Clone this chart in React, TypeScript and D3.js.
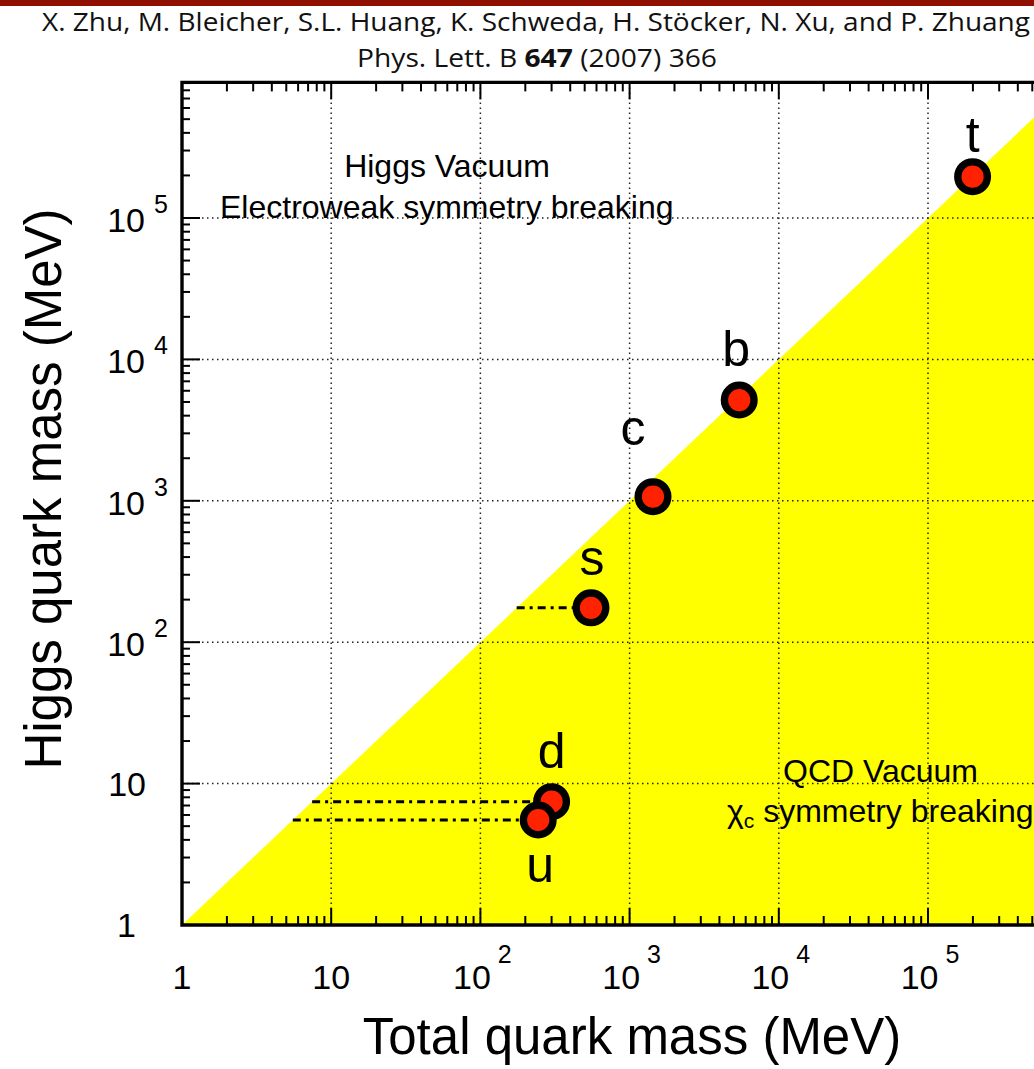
import React from 'react';
import * as d3 from 'd3';

// quark masses (MeV)
const quarks = ['d', 'u', 's', 'c', 'b', 't'];
const totalMass = [300, 244, 551, 1435, 5430, 199000];
const higgsMass = [7.45, 5.53, 175, 1069, 5160, 196000];
// quarks that get a dash-dot line from the diagonal
const withLine = ['u', 'd', 's'];

const majorTicks = [1, 10, 100, 1e3, 1e4, 1e5];
const tickExponents = [0, 1, 2, 3, 4, 5];
const Y_TOP = 9.1e5;
const X_END = 1e6;

const FONT = '"Liberation Sans", Arial, Helvetica, sans-serif';

// label offsets relative to each marker
const labelOffset: Record<string, [number, number]> = {
  t: [0, -25], b: [-3, -34], c: [-20, -52], s: [1, -33], d: [0, -34], u: [2, 62],
};

export default function App() {
  const width = 1034;
  const height = 1069;

  const x = d3.scaleLog().domain([1, X_END]).range([182, 182 + 6 * 149.2]);
  const y = d3.scaleLog().domain([1, 1e5]).range([925, 218]);

  const left = x(1), bottom = y(1), top = y(Y_TOP), right = x(X_END);

  // minor ticks 2..9 in every decade
  const minorX: number[] = [];
  const minorY: number[] = [];
  for (let e = 0; e < 6; e++) {
    for (let m = 2; m <= 9; m++) {
      const v = m * Math.pow(10, e);
      if (v < X_END) minorX.push(v);
      if (v <= Y_TOP) minorY.push(v);
    }
  }

  const yellow = [
    [x(1), y(1)],
    [x(X_END), y(X_END)],
    [x(X_END), y(1)],
  ];

  const pts = quarks.map((q, i) => ({ q, tx: totalMass[i], hy: higgsMass[i] }));

  return (
    <svg width={width} height={height} style={{ position: 'absolute', left: 0, top: 0, background: '#fff' }}
      fontFamily={FONT}>
      <defs>
        <clipPath id="plot">
          <rect x={left} y={top} width={right - left} height={bottom - top} />
        </clipPath>
      </defs>

      {/* header */}
      <rect x={0} y={0} width={width} height={6} fill="#8f1000" />
      <text x={536} y={31} textAnchor="middle" fontFamily='"Open Sans", sans-serif' fontSize={25}
        textLength={988} lengthAdjust="spacingAndGlyphs" fill="#111">
        X. Zhu, M. Bleicher, S.L. Huang, K. Schweda, H. Stöcker, N. Xu, and P. Zhuang
      </text>
      <text x={537} y={67} textAnchor="middle" fontFamily='"Open Sans", sans-serif' fontSize={25}
        textLength={360} lengthAdjust="spacingAndGlyphs" fill="#111">
        Phys. Lett. B <tspan fontWeight="bold">647</tspan> (2007) 366
      </text>

      <g clipPath="url(#plot)">
        <polygon points={yellow.map(p => p.join(',')).join(' ')} fill="#ffff00" />

        {/* dotted grid */}
        {majorTicks.slice(1).map(v => (
          <line key={'gx' + v} x1={x(v)} x2={x(v)} y1={top} y2={bottom}
            stroke="#222" strokeWidth={1.5} strokeDasharray="1.5,3.5" />
        ))}
        {majorTicks.slice(1).map(v => (
          <line key={'gy' + v} x1={left} x2={right} y1={y(v)} y2={y(v)}
            stroke="#222" strokeWidth={1.5} strokeDasharray="1.5,3.5" />
        ))}

        {/* dash-dot lines from the diagonal */}
        {pts.filter(p => withLine.includes(p.q)).map(p => (
          <line key={'dl' + p.q} x1={x(p.hy)} x2={x(p.tx)} y1={y(p.hy)} y2={y(p.hy)}
            stroke="#000" strokeWidth={3} strokeDasharray="8,5,3,5" />
        ))}

        {/* markers */}
        {pts.map(p => (
          <circle key={'c' + p.q} cx={x(p.tx)} cy={y(p.hy)} r={14.8}
            fill="#ff2200" stroke="#000" strokeWidth={7.4} />
        ))}
      </g>

      {/* quark labels */}
      {pts.map(p => (
        <text key={'l' + p.q} x={x(p.tx) + labelOffset[p.q][0]} y={y(p.hy) + labelOffset[p.q][1]}
          textAnchor="middle" fontSize={50} fill="#000">{p.q}</text>
      ))}

      {/* region texts */}
      <text x={447} y={177} textAnchor="middle" fontSize={32}>Higgs Vacuum</text>
      <text x={220} y={218} fontSize={32}>Electroweak symmetry breaking</text>
      <text x={783} y={782} fontSize={32}>QCD Vacuum</text>
      <text x={727} y={822} fontSize={32}>
        <tspan>χ</tspan>
        <tspan fontSize={21} dy={6}>c</tspan>
        <tspan dy={-6}> symmetry breaking</tspan>
      </text>

      {/* ticks */}
      <g stroke="#000" strokeWidth={2}>
        {majorTicks.map(v => (
          <g key={'tx' + v}>
            <line x1={x(v)} x2={x(v)} y1={bottom} y2={bottom - 17} />
            <line x1={x(v)} x2={x(v)} y1={top} y2={top + 17} />
          </g>
        ))}
        {minorX.map(v => (
          <g key={'mx' + v}>
            <line x1={x(v)} x2={x(v)} y1={bottom} y2={bottom - 9} />
            <line x1={x(v)} x2={x(v)} y1={top} y2={top + 9} />
          </g>
        ))}
        {majorTicks.map(v => (
          <line key={'ty' + v} x1={left} x2={left + 18} y1={y(v)} y2={y(v)} />
        ))}
        {minorY.map(v => (
          <line key={'my' + v} x1={left} x2={left + 8} y1={y(v)} y2={y(v)} />
        ))}
      </g>

      {/* frame */}
      <path d={`M${right},${top} H${left} V${bottom} H${right}`} fill="none" stroke="#000" strokeWidth={3.4} />

      {/* x tick labels */}
      {majorTicks.map((v, i) => {
        const e = tickExponents[i];
        if (e < 2) {
          return (
            <text key={'xl' + v} x={x(v)} y={989} textAnchor="middle" fontSize={34}>{e === 0 ? '1' : '10'}</text>
          );
        }
        return (
          <text key={'xl' + v} x={x(v) + 2} y={989} textAnchor="middle" fontSize={34}>
            10<tspan dx={7} dy={-26} fontSize={25}>{e}</tspan>
          </text>
        );
      })}

      {/* y tick labels */}
      {majorTicks.map((v, i) => {
        const e = tickExponents[i];
        if (e === 0) return <text key={'yl' + v} x={136} y={y(v) + 12} textAnchor="end" fontSize={34}>1</text>;
        if (e === 1) return <text key={'yl' + v} x={146} y={y(v) + 12} textAnchor="end" fontSize={34}>10</text>;
        return (
          <g key={'yl' + v}>
            <text x={145} y={y(v) + 14} textAnchor="end" fontSize={34}>10</text>
            <text x={154} y={y(v) - 5} fontSize={25}>{e}</text>
          </g>
        );
      })}

      {/* axis titles */}
      <text x={632} y={1054} textAnchor="middle" fontSize={51}>Total quark mass (MeV)</text>
      <text transform="translate(61,489) rotate(-90)" textAnchor="middle" fontSize={51}>Higgs quark mass (MeV)</text>
    </svg>
  );
}
